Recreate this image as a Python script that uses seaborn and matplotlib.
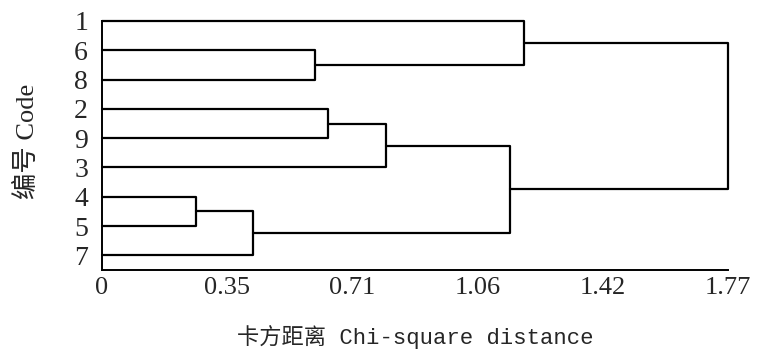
import matplotlib
matplotlib.use("Agg")
import matplotlib.pyplot as plt
import seaborn as sns
import pandas as pd

# ---- data ----
leaf_labels = ["1", "6", "8", "2", "9", "3", "4", "5", "7"]   # top -> bottom
merge_a = ["4", "m1", "6", "2", "m4", "m5", "1", "m7"]
merge_b = ["5", "7", "8", "9", "3", "m2", "m3", "m6"]
merge_h = [0.267, 0.427, 0.603, 0.640, 0.803, 1.154, 1.192, 1.77]
tick_vals = [0, 0.354, 0.708, 1.062, 1.416, 1.77]
tick_labels = ["0", "0.35", "0.71", "1.06", "1.42", "1.77"]
xlabel = "卡方距离 Chi-square distance"
ylabel = "编号 Code"

# ---- build dendrogram segments ----
pos = {lab: (i, 0.0) for i, lab in enumerate(leaf_labels)}  # name -> (y, height)
rows = []
for k, (a, b, h) in enumerate(zip(merge_a, merge_b, merge_h)):
    ya, ha = pos[a]
    yb, hb = pos[b]
    seg = f"s{k}"
    for x, y in [(ha, ya), (h, ya), (h, yb), (hb, yb)]:
        rows.append({"x": x, "y": y, "seg": seg})
    pos[f"m{k+1}"] = ((ya + yb) / 2, h)
df = pd.DataFrame(rows)

sns.set_style("white")
plt.rcParams["font.family"] = ["Liberation Serif", "Noto Sans CJK SC", "DejaVu Sans"]

fig = plt.figure(figsize=(7.58, 3.56), dpi=100)
ax = fig.add_axes([102 / 758, 1 - 270 / 356, 626 / 758, 249 / 356])

sns.lineplot(data=df, x="x", y="y", units="seg", estimator=None, sort=False,
             color="black", linewidth=1.6, legend=False, ax=ax, clip_on=False)

ax.set_xlim(0, 1.77)
ax.set_ylim(len(leaf_labels) - 0.5, 0)
ax.set_yticks(range(len(leaf_labels)))
ax.set_yticklabels(leaf_labels)
ax.set_xticks(tick_vals)
ax.set_xticklabels(tick_labels)

for s in ["top", "right"]:
    ax.spines[s].set_visible(False)
for s in ["left", "bottom"]:
    ax.spines[s].set_color("black")
    ax.spines[s].set_linewidth(1.4)

ax.tick_params(axis="x", direction="in", length=5, width=1.3, color="black",
               pad=5, labelsize=19)
ax.tick_params(axis="y", length=0, pad=10, labelsize=20)

ax.set_xlabel(xlabel, fontsize=16, family=["Liberation Mono", "Noto Sans CJK SC"])
ax.set_ylabel(ylabel, fontsize=19)
ax.xaxis.set_label_coords(0.5, (270 - 337) / 249)
ax.xaxis.label.set_va("center")
ax.yaxis.set_label_coords((27 - 102) / 626, (270 - 141) / 249)
ax.yaxis.label.set_va("center")

fig.savefig("out.png", dpi=100)
